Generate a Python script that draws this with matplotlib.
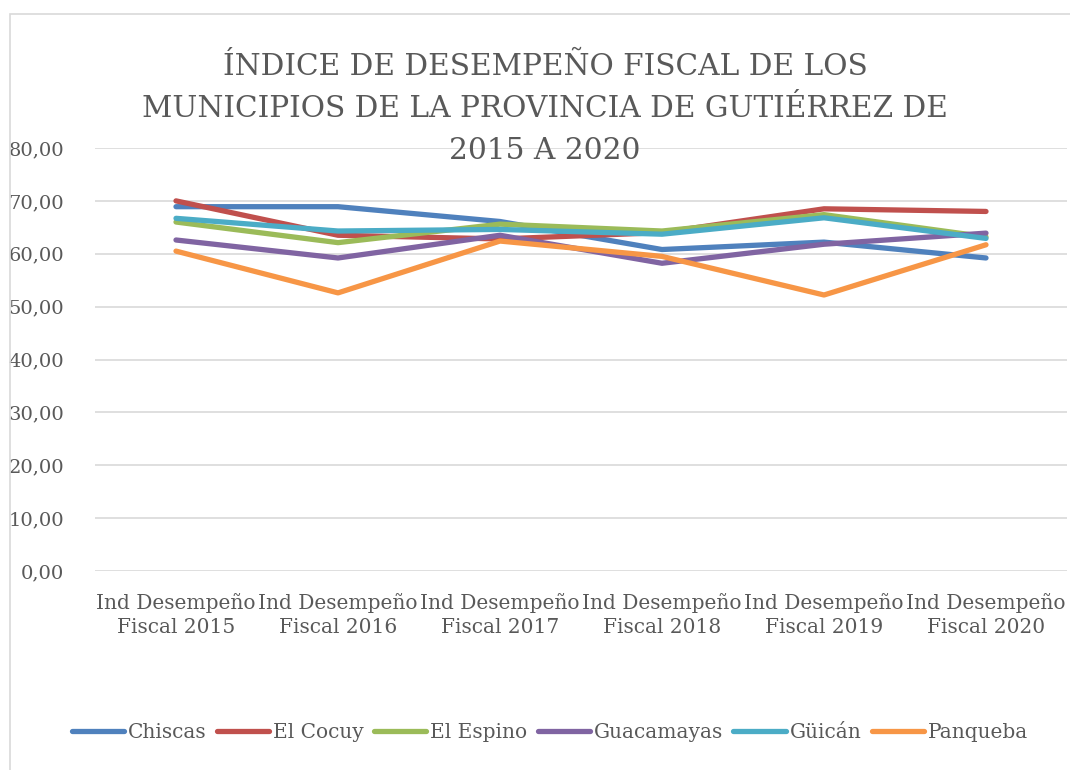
import matplotlib.pyplot as plt
from matplotlib.patches import Rectangle

# datos
categorias = ["Ind Desempeño\nFiscal 2015", "Ind Desempeño\nFiscal 2016", "Ind Desempeño\nFiscal 2017",
              "Ind Desempeño\nFiscal 2018", "Ind Desempeño\nFiscal 2019", "Ind Desempeño\nFiscal 2020"]
chiscas = [68.9, 68.9, 66.1, 60.8, 62.2, 59.2]
el_cocuy = [70.0, 63.5, 62.8, 64.0, 68.5, 68.0]
el_espino = [66.0, 62.1, 65.6, 64.3, 67.4, 63.2]
guacamayas = [62.6, 59.2, 63.5, 58.2, 61.8, 63.9]
guican = [66.7, 64.3, 64.6, 63.7, 66.8, 62.9]
panqueba = [60.5, 52.6, 62.4, 59.5, 52.2, 61.7]

series = {"Chiscas": chiscas, "El Cocuy": el_cocuy, "El Espino": el_espino,
          "Guacamayas": guacamayas, "Güicán": guican, "Panqueba": panqueba}
colores = ["#4F81BD", "#C0504D", "#9BBB59", "#8064A2", "#4BACC6", "#F79646"]

gris = "#595959"
plt.rcParams['font.family'] = ['DejaVu Serif']

fig = plt.figure(figsize=(10.7, 7.7), dpi=100)
fig.patches.append(Rectangle((10 / 1070, -0.01), 1.02, (770 - 14) / 770 + 0.01,
                             transform=fig.transFigure, fill=False, edgecolor="#D9D9D9", linewidth=1.2))

ax = fig.add_axes([95 / 1070, 199 / 770, 972 / 1070, 423 / 770])
x = range(len(categorias))
for (nombre, valores), c in zip(series.items(), colores):
    ax.plot(x, valores, color=c, linewidth=3.8, solid_capstyle="round", label=nombre)

ax.set_xlim(-0.5, 5.5)
ax.set_ylim(0, 80)
ax.set_yticks(range(0, 81, 10))
ax.set_yticklabels([f"{v:.2f}".replace(".", ",") for v in range(0, 81, 10)], fontsize=14, color=gris)
ax.set_xticks(list(x))
ax.set_xticklabels(categorias, fontsize=14.5, color=gris, linespacing=1.35)
ax.tick_params(length=0)
ax.tick_params(axis="x", pad=16)
ax.tick_params(axis="y", pad=22)
ax.grid(axis="y", color="#D9D9D9", linewidth=1.2)
ax.set_axisbelow(True)
for s in ax.spines.values():
    s.set_visible(False)

fig.text(545 / 1070, 1 - 109 / 770,
         "ÍNDICE DE DESEMPEÑO FISCAL DE LOS\nMUNICIPIOS DE LA PROVINCIA DE GUTIÉRREZ DE\n2015 A 2020",
         ha="center", va="center", fontsize=21.3, color=gris, linespacing=1.65)

fig.legend(loc="center", bbox_to_anchor=(550 / 1070, 1 - 733 / 770), ncol=6, frameon=False,
           fontsize=14.5, labelcolor=gris, handlelength=2.6, handletextpad=0.2, columnspacing=0.5)

fig.savefig("out.png", dpi=100)
